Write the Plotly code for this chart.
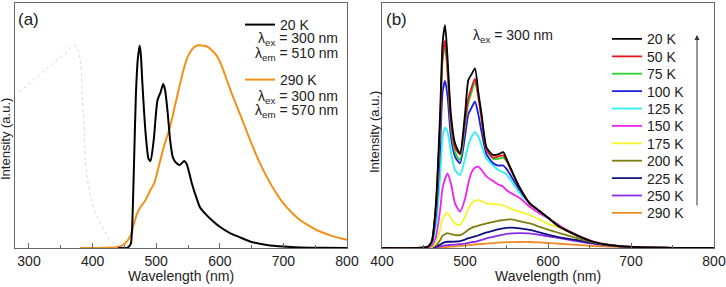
import plotly.graph_objects as go

W, H = 726, 287

# ---------------- Panel (a) data ----------------
wl_exc = [284, 300, 315, 329, 345, 360, 371, 377, 381, 384, 387, 389, 393, 397, 405, 413, 423, 434, 445]
exc = [0.77, 0.81, 0.85, 0.89, 0.93, 0.97, 1.0, 0.98, 0.91, 0.745, 0.58, 0.417, 0.32, 0.253, 0.17, 0.12, 0.06, 0.02, 0]

wl_a20 = [440, 455, 460, 462, 465, 468, 471, 474, 476, 478, 483, 488, 491, 496, 502, 507, 511, 514, 518, 522,
          526, 530, 537, 544, 548, 552, 556, 562, 569, 577, 585, 600, 616, 630, 650, 674, 700, 726, 760, 800]
a20 = [0, 0.002, 0.02, 0.09, 0.4, 0.75, 0.93, 1.0, 0.95, 0.83, 0.58, 0.44, 0.43, 0.53, 0.73, 0.77, 0.81, 0.78, 0.67, 0.53,
       0.45, 0.425, 0.41, 0.43, 0.415, 0.37, 0.32, 0.26, 0.2, 0.17, 0.145, 0.105, 0.074, 0.055, 0.03, 0.015, 0.007, 0.003, 0.001, 0]

wl_a290 = [380, 420, 440, 450, 459, 465, 470, 475, 483, 491, 497, 503, 512, 522, 530, 536, 543, 549, 556, 564,
           572, 580, 588, 595, 603, 611, 621, 635, 648, 660, 674, 687, 700, 713, 726, 740, 752, 776, 800]
a290 = [0, 0.001, 0.005, 0.02, 0.056, 0.12, 0.17, 0.2, 0.236, 0.286, 0.32, 0.39, 0.5, 0.6, 0.71, 0.79, 0.88, 0.94, 0.98, 1.0,
        1.0, 0.995, 0.975, 0.95, 0.9, 0.83, 0.745, 0.635, 0.53, 0.44, 0.35, 0.28, 0.22, 0.175, 0.138, 0.11, 0.089, 0.06, 0.04]

# ---------------- Panel (b) data ----------------
wl_b = [400, 440, 455, 460, 465, 470, 473, 476, 479, 483, 488, 494, 500, 504, 508, 512, 516, 520, 526, 534, 540,
        546, 550, 556, 566, 578, 590, 602, 614, 634, 654, 675, 700, 750, 800]
temps = ["20 K", "50 K", "75 K", "100 K", "125 K", "150 K", "175 K", "200 K", "225 K", "250 K", "290 K"]
b20 = [0, 0, 0.005, 0.03, 0.2, 0.6, 0.92, 1.0, 0.85, 0.6, 0.47, 0.425, 0.6, 0.753, 0.78, 0.806, 0.7, 0.6, 0.45, 0.417, 0.42,
       0.43, 0.40, 0.35, 0.27, 0.2, 0.165, 0.13, 0.095, 0.058, 0.028, 0.013, 0.005, 0.001, 0]
b50 = [0, 0, 0.005, 0.03, 0.19, 0.56, 0.86, 0.93, 0.8, 0.57, 0.45, 0.42, 0.57, 0.67, 0.72, 0.76, 0.68, 0.58, 0.44, 0.405, 0.41,
       0.415, 0.395, 0.345, 0.27, 0.2, 0.165, 0.13, 0.095, 0.058, 0.028, 0.013, 0.005, 0.001, 0]
b75 = [0, 0, 0.005, 0.03, 0.18, 0.54, 0.84, 0.905, 0.78, 0.55, 0.43, 0.395, 0.55, 0.65, 0.70, 0.745, 0.68, 0.58, 0.44, 0.40, 0.40,
       0.405, 0.39, 0.345, 0.27, 0.2, 0.165, 0.13, 0.095, 0.058, 0.028, 0.013, 0.005, 0.001, 0]
b100 = [0, 0, 0.004, 0.025, 0.15, 0.45, 0.7, 0.75, 0.68, 0.5, 0.41, 0.38, 0.5, 0.6, 0.63, 0.656, 0.6, 0.52, 0.42, 0.38, 0.37,
        0.37, 0.355, 0.32, 0.26, 0.2, 0.165, 0.13, 0.095, 0.058, 0.028, 0.013, 0.005, 0.001, 0]
b125 = [0, 0, 0.003, 0.02, 0.1, 0.32, 0.5, 0.54, 0.52, 0.43, 0.35, 0.327, 0.4, 0.46, 0.5, 0.52, 0.5, 0.46, 0.4, 0.37, 0.35,
        0.34, 0.33, 0.3, 0.246, 0.2, 0.165, 0.13, 0.095, 0.058, 0.028, 0.013, 0.005, 0.001, 0]
b150 = [0, 0, 0.002, 0.01, 0.05, 0.17, 0.27, 0.31, 0.335, 0.29, 0.2, 0.163, 0.22, 0.29, 0.34, 0.36, 0.365, 0.35, 0.32, 0.3, 0.285,
        0.275, 0.26, 0.245, 0.224, 0.185, 0.155, 0.13, 0.1, 0.06, 0.03, 0.014, 0.006, 0.001, 0]
b175 = [0, 0, 0.001, 0.005, 0.025, 0.08, 0.13, 0.15, 0.157, 0.135, 0.11, 0.103, 0.14, 0.175, 0.2, 0.213, 0.215, 0.21, 0.2, 0.197, 0.195,
        0.192, 0.185, 0.175, 0.163, 0.148, 0.127, 0.105, 0.09, 0.056, 0.03, 0.014, 0.006, 0.001, 0]
b200 = [0, 0, 0.001, 0.003, 0.012, 0.035, 0.055, 0.062, 0.067, 0.062, 0.058, 0.058, 0.07, 0.082, 0.09, 0.096, 0.1, 0.105, 0.11, 0.117, 0.122,
        0.125, 0.127, 0.128, 0.12, 0.11, 0.095, 0.08, 0.067, 0.045, 0.025, 0.012, 0.005, 0.001, 0]
b225 = [0, 0, 0, 0.002, 0.006, 0.015, 0.022, 0.026, 0.028, 0.028, 0.029, 0.031, 0.038, 0.044, 0.048, 0.052, 0.056, 0.062, 0.07, 0.078, 0.084,
        0.088, 0.09, 0.091, 0.088, 0.081, 0.07, 0.058, 0.048, 0.036, 0.022, 0.011, 0.005, 0.001, 0]
b250 = [0, 0, 0, 0.001, 0.003, 0.007, 0.01, 0.012, 0.013, 0.014, 0.015, 0.017, 0.02, 0.023, 0.026, 0.028, 0.032, 0.036, 0.043, 0.05, 0.056,
        0.06, 0.063, 0.066, 0.067, 0.066, 0.059, 0.051, 0.044, 0.031, 0.02, 0.011, 0.005, 0.001, 0]
b290 = [0, 0, 0, 0, 0.001, 0.002, 0.003, 0.004, 0.005, 0.006, 0.007, 0.009, 0.011, 0.013, 0.014, 0.016, 0.017, 0.018, 0.02, 0.022, 0.024,
        0.025, 0.026, 0.026, 0.027, 0.027, 0.025, 0.022, 0.019, 0.014, 0.009, 0.006, 0.003, 0.001, 0]
b_series = [b20, b50, b75, b100, b125, b150, b175, b200, b225, b250, b290]
b_colors = ["#000000", "#e8141c", "#2ed12e", "#1a1ae6", "#2ef0f0", "#f020f0", "#f5f52a", "#7f7f12", "#10107f", "#8a2be8", "#f08a24"]

FONT = "Liberation Sans, Arial, sans-serif"
TXT = "#222222"

def px(x):
    return x / W

def py(y):
    return 1 - y / H

fig = go.Figure()

fig.add_trace(go.Scatter(x=wl_exc, y=exc, mode="lines", line=dict(color="#d8d8d8", width=1, dash="dot", shape="spline"),
                         showlegend=False, xaxis="x", yaxis="y"))
fig.add_trace(go.Scatter(x=wl_a290, y=a290, mode="lines", name="290 K", line=dict(color="#f39019", width=2, shape="spline", smoothing=0.6),
                         xaxis="x", yaxis="y", legend="legend2"))
fig.add_trace(go.Scatter(x=wl_a20, y=a20, mode="lines", name="20 K", line=dict(color="#000000", width=2, shape="spline", smoothing=0.6),
                         xaxis="x", yaxis="y", legend="legend"))

leg_rows_b = [39.3 + i * 17.4 for i in range(len(temps))]
order = list(range(len(temps)))[::-1]
for i in order:
    fig.add_trace(go.Scatter(x=wl_b, y=b_series[i], mode="lines", name=temps[i],
                             line=dict(color=b_colors[i], width=1.8, shape="spline", smoothing=0.6),
                             xaxis="x2", yaxis="y2", legend="legend%d" % (i + 3)))

legend_base = dict(bgcolor="rgba(0,0,0,0)", borderwidth=0, xanchor="left", yanchor="middle",
                   font=dict(family=FONT, size=14, color=TXT), itemwidth=30)
layout_legends = {}
layout_legends["legend"] = dict(legend_base, x=px(245 - 5), y=py(25))
layout_legends["legend2"] = dict(legend_base, x=px(245 - 5), y=py(80))
for i in range(len(temps)):
    layout_legends["legend%d" % (i + 3)] = dict(legend_base, x=px(612 - 5), y=py(leg_rows_b[i]))

axis_common = dict(showline=True, linecolor="#666666", linewidth=1, mirror=True, showgrid=False, zeroline=False,
                   automargin=False)
xcommon = dict(axis_common, ticks="inside", ticklen=5, tickcolor="#666666", dtick=100,
               tickfont=dict(family=FONT, size=14, color=TXT),
               minor=dict(dtick=50, ticks="inside", ticklen=3, tickcolor="#666666"))
ycommon = dict(axis_common, ticks="", showticklabels=False)

ydom = [1 - 248 / H, 1 - 3 / H]

annotations = [
    dict(text="(a)", x=px(16), y=py(19), xref="paper", yref="paper", xanchor="left", yanchor="middle", showarrow=False,
         font=dict(family=FONT, size=17, color=TXT)),
    dict(text="(b)", x=px(384), y=py(19), xref="paper", yref="paper", xanchor="left", yanchor="middle", showarrow=False,
         font=dict(family=FONT, size=17, color=TXT)),
    dict(text="Wavelength (nm)", x=px(181), y=py(276), xref="paper", yref="paper", xanchor="center", yanchor="middle",
         showarrow=False, font=dict(family=FONT, size=14, color=TXT)),
    dict(text="Wavelength (nm)", x=px(548), y=py(276), xref="paper", yref="paper", xanchor="center", yanchor="middle",
         showarrow=False, font=dict(family=FONT, size=14, color=TXT)),
    dict(text="Intensity (a.u.)", x=px(5), y=py(139), xref="paper", yref="paper", xanchor="center", yanchor="middle",
         textangle=-90, showarrow=False, font=dict(family=FONT, size=13, color=TXT)),
    dict(text="Intensity (a.u.)", x=px(374), y=py(132), xref="paper", yref="paper", xanchor="center", yanchor="middle",
         textangle=-90, showarrow=False, font=dict(family=FONT, size=13, color=TXT)),
    dict(text="λ<sub>ex</sub> = 300 nm", x=px(340), y=py(39), xref="paper", yref="paper", xanchor="right", yanchor="middle",
         showarrow=False, font=dict(family=FONT, size=14, color=TXT)),
    dict(text="λ<sub>em</sub> = 510 nm", x=px(340), y=py(54), xref="paper", yref="paper", xanchor="right", yanchor="middle",
         showarrow=False, font=dict(family=FONT, size=14, color=TXT)),
    dict(text="λ<sub>ex</sub> = 300 nm", x=px(340), y=py(97), xref="paper", yref="paper", xanchor="right", yanchor="middle",
         showarrow=False, font=dict(family=FONT, size=14, color=TXT)),
    dict(text="λ<sub>em</sub> = 570 nm", x=px(340), y=py(111), xref="paper", yref="paper", xanchor="right", yanchor="middle",
         showarrow=False, font=dict(family=FONT, size=14, color=TXT)),
    dict(text="λ<sub>ex</sub> = 300 nm", x=px(471), y=py(36), xref="paper", yref="paper", xanchor="left", yanchor="middle",
         showarrow=False, font=dict(family=FONT, size=14, color=TXT)),
    dict(text="", x=px(697), y=py(35), xref="paper", yref="paper", ax=0, ay=172, axref="pixel", ayref="pixel",
         showarrow=True, arrowhead=2, arrowsize=1, arrowwidth=1, arrowcolor="#333333"),
]

fig.update_layout(
    width=W, height=H, margin=dict(l=0, r=0, t=0, b=0, pad=0, autoexpand=False),
    paper_bgcolor="white", plot_bgcolor="white",
    font=dict(family=FONT, color=TXT),
    xaxis=dict(xcommon, domain=[15 / W, 347 / W], range=[278, 800], tick0=300, anchor="y"),
    yaxis=dict(ycommon, domain=ydom, range=[0, 1.21], anchor="x"),
    xaxis2=dict(xcommon, domain=[382 / W, 714 / W], range=[400, 800], tick0=400, anchor="y2"),
    yaxis2=dict(ycommon, domain=ydom, range=[0, 1.099], anchor="x2"),
    annotations=annotations,
    **layout_legends,
)

fig.write_html("out.html")
